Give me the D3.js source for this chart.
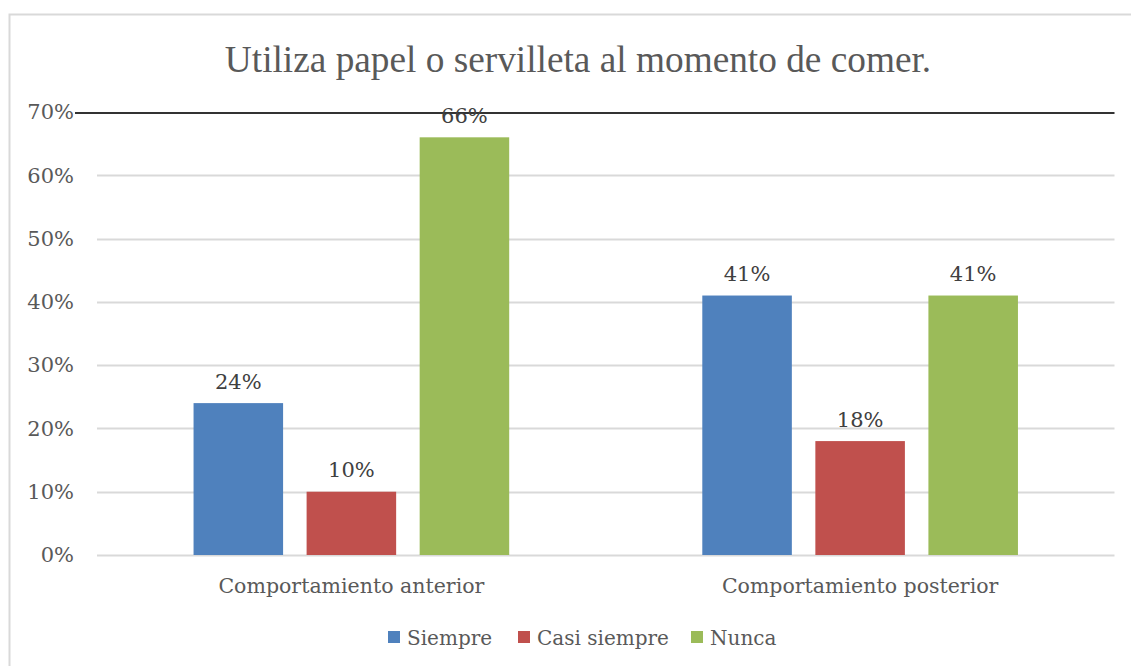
<!DOCTYPE html>
<html><head><meta charset="utf-8">
<script src="https://cdn.jsdelivr.net/npm/d3@7"></script>
<style>body{margin:0;background:#fff;} svg{display:block;}</style>
</head><body>
<svg id="c" width="1131" height="666"></svg>
<script>
const title = "Utiliza papel o servilleta al momento de comer.";
const categories = ["Comportamiento anterior", "Comportamiento posterior"];
const seriesNames = ["Siempre", "Casi siempre", "Nunca"];
const siempre = [0.24, 0.41];
const casiSiempre = [0.10, 0.18];
const nunca = [0.66, 0.41];
const seriesValues = [siempre, casiSiempre, nunca];
const colors = ["#4f81bd", "#c0504d", "#9bbb59"];
const yTicks = [0, 0.1, 0.2, 0.3, 0.4, 0.5, 0.6, 0.7];

const svg = d3.select("#c");
const textColor = "#595959";
const labelFont = "'DejaVu Serif', serif";

svg.append("rect").attr("x", 9.5).attr("y", 14.5).attr("width", 1140).attr("height", 680)
  .attr("fill", "#fff").attr("stroke", "#d9d9d9").attr("stroke-width", 2);

svg.append("text").attr("x", 578).attr("y", 72).attr("text-anchor", "middle")
  .attr("font-family", "'Liberation Serif', serif").attr("font-size", 37.3)
  .attr("fill", textColor).text(title);

const x0 = d3.scaleBand().domain(categories).range([97, 1114.5]).padding(0);
const x1 = d3.scaleBand().domain(seriesNames).range([0, x0.bandwidth()])
  .paddingInner(0.208).paddingOuter(0.854);
const y = d3.scaleLinear().domain([0, 0.7]).range([555, 112]);

// gridlines
svg.append("g").selectAll("line").data(yTicks.slice(0, -1)).join("line")
  .attr("x1", 97).attr("x2", 1114.5)
  .attr("y1", d => Math.round(y(d)) + 0.5).attr("y2", d => Math.round(y(d)) + 0.5)
  .attr("stroke", "#d9d9d9").attr("stroke-width", 2);

// y axis labels
const yAxis = d3.axisLeft(y).tickValues(yTicks).tickFormat(d3.format(".0%")).tickSize(0).tickPadding(0);
const ga = svg.append("g").attr("transform", "translate(74,0)").call(yAxis);
ga.select(".domain").remove();
ga.selectAll("text").attr("font-family", labelFont).attr("font-size", 21).attr("fill", textColor);

// top dark line at 70%
svg.append("line").attr("x1", 75).attr("x2", 1114.5).attr("y1", y(0.7) + 1).attr("y2", y(0.7) + 1)
  .attr("stroke", "#333").attr("stroke-width", 2);

// bars
const groups = svg.append("g").selectAll("g").data(categories).join("g")
  .attr("transform", d => `translate(${x0(d)},0)`);
groups.each(function(cat, ci) {
  const g = d3.select(this);
  seriesNames.forEach((s, si) => {
    const v = seriesValues[si][ci];
    g.append("rect").attr("x", x1(s)).attr("width", x1.bandwidth())
      .attr("y", y(v)).attr("height", y(0) - y(v)).attr("fill", colors[si]);
    g.append("text").attr("x", x1(s) + x1.bandwidth() / 2).attr("y", y(v) - 14.5)
      .attr("text-anchor", "middle").attr("font-family", labelFont).attr("font-size", 21)
      .attr("fill", "#404040").text(d3.format(".0%")(v));
  });
});

// x axis labels
const xAxis = d3.axisBottom(x0).tickSize(0).tickPadding(0);
const gx = svg.append("g").attr("transform", "translate(0,593)").call(xAxis);
gx.select(".domain").remove();
gx.selectAll("text").attr("font-family", labelFont).attr("font-size", 20.5).attr("fill", textColor).attr("dy", 0);

// legend
const legendX = [388, 518, 691];
const lg = svg.append("g").selectAll("g").data(seriesNames).join("g")
  .attr("transform", (d, i) => `translate(${legendX[i]},631)`);
lg.append("rect").attr("width", 12).attr("height", 12).attr("fill", (d, i) => colors[i]);
lg.append("text").attr("x", 19).attr("y", 13.5).attr("font-family", labelFont).attr("font-size", 20)
  .attr("fill", textColor).text(d => d);
</script>
</body></html>
